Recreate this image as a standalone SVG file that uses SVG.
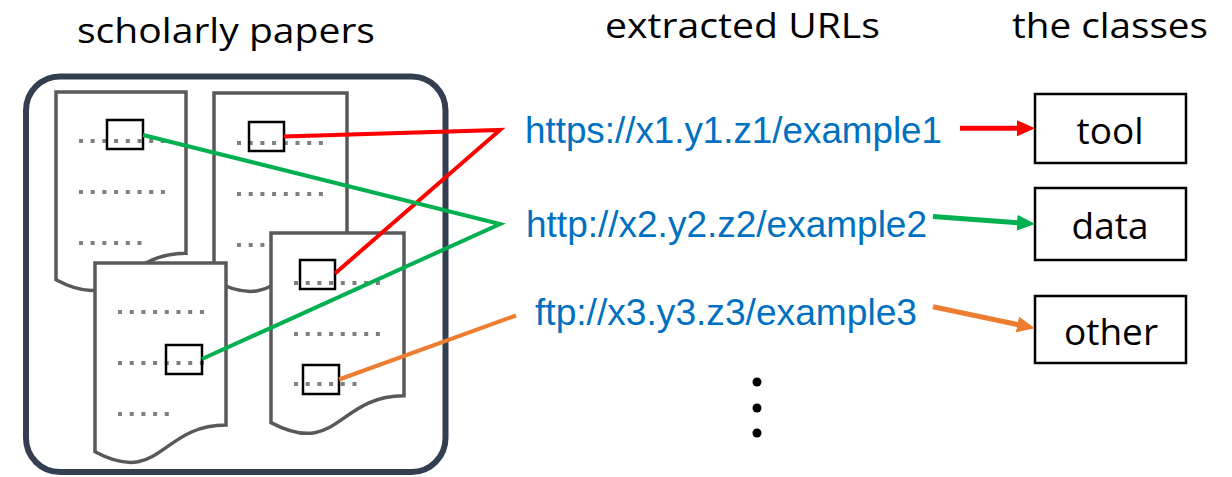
<svg xmlns="http://www.w3.org/2000/svg" width="1232" height="477" viewBox="0 0 1232 477">
<style>
.hdr{font-family:"Open Sans","Noto Sans",sans-serif;font-size:35px;fill:#000}
.cls{font-family:"Open Sans","Noto Sans",sans-serif;font-size:37px;fill:#000;text-anchor:middle}
.url{font-family:"Liberation Sans",Arial,sans-serif;font-size:37px;fill:#0070c0}
.doc{fill:#fff;stroke:#595959;stroke-width:3.5;stroke-linejoin:miter}
.dots{stroke:#7f7f7f;stroke-width:4;stroke-dasharray:4 7.7;fill:none}
.box{fill:none;stroke:#000;stroke-width:2.5}
.cbox{fill:#fff;stroke:#000;stroke-width:2.5}
.ln{fill:none;stroke-width:4}
.arr{fill:none;stroke-width:5}
</style>
<defs>
<marker id="ahR" viewBox="0 0 18 16" refX="8" refY="8" markerWidth="18" markerHeight="16" markerUnits="userSpaceOnUse" orient="auto"><path d="M0,0 L18,8 L0,16 Z" fill="#ff0000"/></marker>
<marker id="ahG" viewBox="0 0 18 16" refX="8" refY="8" markerWidth="18" markerHeight="16" markerUnits="userSpaceOnUse" orient="auto"><path d="M0,0 L18,8 L0,16 Z" fill="#00b050"/></marker>
<marker id="ahO" viewBox="0 0 18 16" refX="8" refY="8" markerWidth="18" markerHeight="16" markerUnits="userSpaceOnUse" orient="auto"><path d="M0,0 L18,8 L0,16 Z" fill="#ed7d31"/></marker>
</defs>

<g id="headers">
<text class="hdr" x="77" y="43" textLength="298" lengthAdjust="spacingAndGlyphs">scholarly papers</text>
<text class="hdr" x="605" y="38" textLength="275" lengthAdjust="spacingAndGlyphs">extracted URLs</text>
<text class="hdr" x="1012" y="38" textLength="196" lengthAdjust="spacingAndGlyphs">the classes</text>
</g>

<g id="papers">
<rect x="26" y="76.5" width="419.5" height="395.5" rx="34" ry="34" fill="#fff" stroke="#333f50" stroke-width="6"/>
</g>

<g id="doc1">
<path class="doc" d="M56,92 H186 V253.2 C121,253.2 121,314.6 56,279.7 Z"/>
<line class="dots" x1="79" y1="141" x2="166" y2="141"/>
<line class="dots" x1="79" y1="192" x2="166" y2="192"/>
<line class="dots" x1="79" y1="243" x2="142" y2="243"/>
<rect class="box" x="107" y="120" width="36" height="29"/>
</g>

<g id="doc2">
<path class="doc" d="M214,93 H347 V254.2 C280.5,254.2 280.5,315.6 214,280.7 Z"/>
<line class="dots" x1="237" y1="143" x2="325" y2="143"/>
<line class="dots" x1="237" y1="194" x2="325" y2="194"/>
<line class="dots" x1="237" y1="245" x2="300" y2="245"/>
<rect class="box" x="249" y="122" width="35" height="29"/>
</g>

<g id="doc3">
<path class="doc" d="M95,263 H226 V425 C160.5,425 160.5,486.7 95,451.7 Z"/>
<line class="dots" x1="118" y1="312" x2="206" y2="312"/>
<line class="dots" x1="118" y1="363" x2="206" y2="363"/>
<line class="dots" x1="118" y1="414" x2="170" y2="414"/>
<rect class="box" x="166" y="345" width="36" height="29"/>
</g>

<g id="doc4">
<path class="doc" d="M271,233 H404 V395.8 C337.5,395.8 337.5,457.8 271,422.6 Z"/>
<line class="dots" x1="294" y1="283" x2="382" y2="283"/>
<line class="dots" x1="294" y1="334" x2="382" y2="334"/>
<line class="dots" x1="294" y1="384" x2="358" y2="384"/>
<rect class="box" x="300" y="260" width="35" height="29"/>
<rect class="box" x="303" y="365" width="36" height="29"/>
</g>

<g id="url1"><text class="url" x="525" y="143" textLength="417" lengthAdjust="spacingAndGlyphs">https://x1.y1.z1/example1</text></g>
<g id="url2"><text class="url" x="526" y="237" textLength="401" lengthAdjust="spacingAndGlyphs">http://x2.y2.z2/example2</text></g>
<g id="url3"><text class="url" x="535" y="325" textLength="382" lengthAdjust="spacingAndGlyphs">ftp://x3.y3.z3/example3</text></g>

<g id="tool"><rect class="cbox" x="1035" y="94" width="151" height="69"/><text class="cls" x="1110" y="144">tool</text></g>
<g id="data"><rect class="cbox" x="1035" y="188" width="151" height="72"/><text class="cls" x="1110" y="239">data</text></g>
<g id="other"><rect class="cbox" x="1035" y="296" width="151" height="67"/><text class="cls" x="1111" y="345">other</text></g>

<g id="ellipsis" fill="#000">
<circle cx="757" cy="382" r="4.5"/>
<circle cx="757" cy="408" r="4.5"/>
<circle cx="757" cy="433" r="4.5"/>
</g>

<g id="connectors">
<polyline class="ln" stroke="#ff0000" points="284,136.5 500,130 335,273.5"/>
<polyline class="ln" stroke="#00b050" points="143,135 500,224 202,359"/>
<line class="ln" stroke="#ed7d31" x1="339" y1="379.5" x2="516" y2="315.5"/>
<line class="arr" stroke="#ff0000" x1="960" y1="128.3" x2="1025" y2="128.3" marker-end="url(#ahR)"/>
<line class="arr" stroke="#00b050" x1="933" y1="216.5" x2="1025" y2="223.3" marker-end="url(#ahG)"/>
<line class="arr" stroke="#ed7d31" x1="933" y1="306.7" x2="1025.2" y2="326.2" marker-end="url(#ahO)"/>
</g>
</svg>
